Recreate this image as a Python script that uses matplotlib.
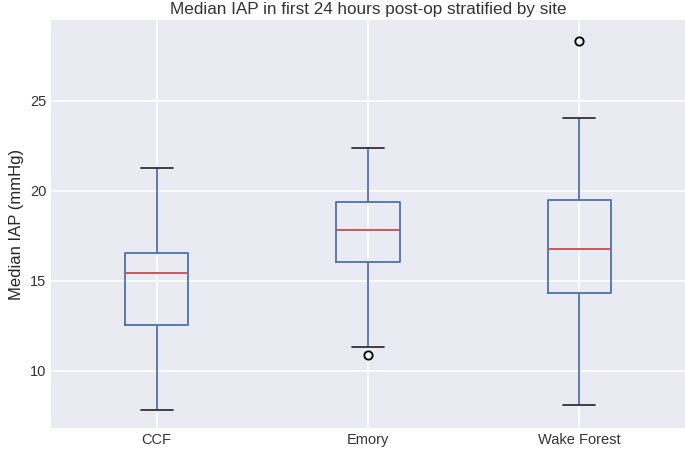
import matplotlib
matplotlib.use('Agg')
import matplotlib.pyplot as plt

plt.style.use('seaborn-v0_8-darkgrid')
plt.rcParams['font.family'] = ['Liberation Sans', 'DejaVu Sans']

sites = ['CCF', 'Emory', 'Wake Forest']
whislo = [7.83, 11.33, 8.11]
q1 = [12.56, 16.06, 14.33]
med = [15.47, 17.83, 16.75]
q3 = [16.56, 19.39, 19.5]
whishi = [21.28, 22.39, 24.06]
fliers = [[], [10.9], [28.33]]

stats = []
for i in range(len(sites)):
    stats.append({'label': sites[i], 'whislo': whislo[i], 'q1': q1[i], 'med': med[i],
                  'q3': q3[i], 'whishi': whishi[i], 'fliers': fliers[i]})

fig = plt.figure(figsize=(6.85, 4.54), dpi=100)
ax = fig.add_axes([51/685, 26/454, 634/685, 408/454])

blue = '#4C72B0'
ax.bxp(stats, widths=0.3,
       boxprops=dict(color=blue, linewidth=1.3),
       whiskerprops=dict(color=blue, linewidth=1.3),
       capprops=dict(color='#333333', linewidth=1.3),
       medianprops=dict(color='#C44E52', linewidth=1.3),
       flierprops=dict(marker='o', markerfacecolor='none', markeredgecolor='black',
                       markersize=6, markeredgewidth=1.3))

ax.set_ylim(6.83, 29.5)
ax.set_xlim(0.5, 3.5)
ax.set_yticks([10, 15, 20, 25])
ax.grid(True, color='white', linewidth=1.2)
ax.tick_params(labelsize=10.5, colors='#333333')
ax.set_title('Median IAP in first 24 hours post-op stratified by site', fontsize=12.3,
             color='#333333', pad=4)
ax.set_ylabel('Median IAP (mmHg)', fontsize=12, color='#262626')

fig.savefig('out.png', dpi=100)
